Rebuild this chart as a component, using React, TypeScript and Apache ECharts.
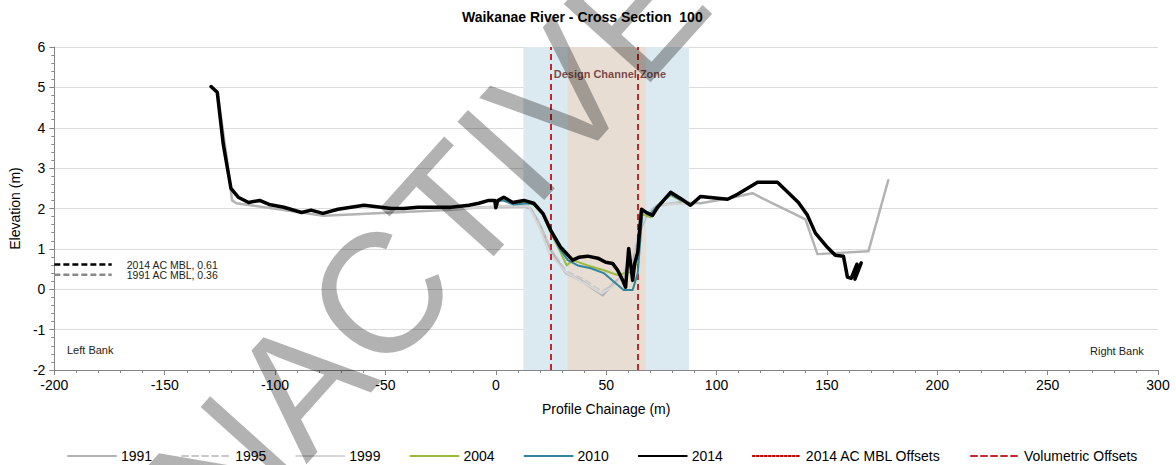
import React, { useEffect, useRef } from "react";
import * as echarts from "echarts";

const titleText = "Waikanae River - Cross Section  100";

const s1991: [number, number][] = [
  [-129, 5.0], [-126, 4.85], [-122, 3.3], [-119.5, 2.2], [-117.5, 2.13], [-78, 1.82], [-20, 1.97],
  [-6.8, 2.03], [12.7, 2.05], [15.8, 2.0], [20.4, 1.55], [24.9, 0.97], [31.7, 0.4], [38.5, 0.22],
  [48.4, -0.15], [53.4, 0.15], [57.9, 0.35], [62, 0.77], [64.7, 1.39], [68.8, 1.88], [73.3, 2.08],
  [83.7, 2.15], [92.8, 2.13], [105, 2.25], [116.3, 2.38], [120.8, 2.25], [140.3, 1.73], [145.7, 0.87],
  [168.8, 0.94], [177.8, 2.7],
];

const s1995: [number, number][] = [
  [0, 2.08], [15, 2.06], [20, 1.6], [25, 1.0], [32, 0.45], [40, 0.25], [48, -0.05], [55, 0.2],
  [62, 0.8], [66, 1.6], [70, 1.95], [80, 2.15], [90, 2.15],
];

const s1999: [number, number][] = [
  [-20, 1.98], [0, 2.05], [15, 2.05], [20, 1.5], [24, 0.9], [31.7, 0.42], [40, 0.15], [48, -0.1],
  [54, 0.1], [60, 0.5], [64, 1.3], [68, 1.85], [75, 2.1], [90, 2.12],
];

const s2004: [number, number][] = [
  [0, 2.1], [2, 2.22], [5, 2.18], [8, 2.12], [12.7, 2.15], [17, 2.1], [21.3, 1.85], [24.9, 1.39],
  [29, 0.95], [32.1, 0.59], [34.8, 0.72], [41.6, 0.59], [48.9, 0.47], [55.2, 0.35], [59.7, 0.42],
  [62, 0.4], [64.3, 0.72], [65.6, 1.88], [70.1, 1.78], [74.7, 2.13], [79.2, 2.33], [83.7, 2.2], [88, 2.1],
];

const s2010: [number, number][] = [
  [0, 2.05], [1, 2.18], [3.2, 2.2], [8.1, 2.1], [15.8, 2.13], [18, 2.08], [21.3, 1.85], [24.9, 1.42],
  [29, 1.0], [32.6, 0.72], [37.1, 0.59], [43, 0.52], [48.9, 0.4], [54.3, 0.15], [57.9, -0.02],
  [62, -0.02], [64.3, 0.4], [66.5, 1.96], [70.1, 1.88], [74.7, 2.15], [79.2, 2.35], [84, 2.2],
];

const s2014: [number, number][] = [
  [-129, 5.02], [-126.2, 4.88], [-123.5, 3.6], [-120, 2.5], [-116.7, 2.28], [-112, 2.15], [-107, 2.2],
  [-102.7, 2.1], [-96, 2.03], [-88, 1.9], [-83.7, 1.96], [-78.3, 1.88], [-71.5, 1.98], [-65.6, 2.03],
  [-59.7, 2.08], [-52, 2.03], [-47.5, 2.0], [-41.6, 2.0], [-35.3, 2.03], [-20.4, 2.03], [-12.2, 2.08],
  [-7.7, 2.13], [-3.2, 2.2], [-0.5, 2.2], [0, 2.02], [0.9, 2.2], [3.6, 2.28], [7.7, 2.15], [12.7, 2.2],
  [17.2, 2.13], [21.3, 1.88], [24.9, 1.46], [29.4, 1.04], [34.8, 0.72], [37.6, 0.79], [41.6, 0.82],
  [46.2, 0.77], [49.8, 0.67], [52.9, 0.64], [55.2, 0.47], [57.5, 0.22], [58.8, 0.05], [60.2, 1.01],
  [62, 0.22], [62.9, 0.64], [64.3, 0.92], [66, 1.98], [68.8, 1.88], [71, 1.83], [73.3, 2.03], [76, 2.2],
  [79.2, 2.4], [83.7, 2.25], [88.2, 2.08], [92.8, 2.3], [105, 2.23], [109.5, 2.35], [118.6, 2.65],
  [127.6, 2.65], [137.1, 2.15], [141.2, 1.83], [144.8, 1.39], [150.2, 1.04], [153.8, 0.84], [157.5, 0.82],
  [159.3, 0.3], [161, 0.27], [163.6, 0.62], [162.7, 0.25], [165.5, 0.65],
];

const mbl2014 = 0.61;
const mbl1991 = 0.36;
const mblStart = -200;
const mblEnd = -174;

const volumetricOffsets = [25, 64.5];
const outerZone = [12.5, 87.5];
const designZone = [32.5, 68];
const zoneLabelAt: [number, number] = [26, 5.32];
const zoneLabel = "Design Channel Zone";

const legendNames = ["1991", "1995", "1999", "2004", "2010", "2014", "2014 AC MBL Offsets", "Volumetric Offsets"];

const FONT = "'Liberation Sans', Arial, sans-serif";

function lineSeries(name: string, data: [number, number][], color: string, width: number, type: any = "solid", z = 3) {
  return {
    name,
    type: "line",
    data,
    symbol: "none",
    z,
    lineStyle: { color, width, type, join: "round", cap: "round" },
    itemStyle: { color },
    emphasis: { disabled: true },
  };
}

const option: any = {
  animation: false,
  textStyle: { fontFamily: FONT },
  title: {
    text: titleText,
    left: 462,
    top: 10,
    padding: 0,
    textStyle: { fontSize: 14, fontWeight: "bold", color: "#000", fontFamily: FONT },
  },
  grid: { left: 53, right: 18, top: 47, bottom: 95, containLabel: false },
  legend: {
    data: legendNames,
    left: 62,
    top: 444,
    itemWidth: 48,
    itemHeight: 14,
    itemGap: 29,
    itemStyle: { opacity: 0 },
    textStyle: { fontSize: 14, color: "#000", fontFamily: FONT },
  },
  xAxis: {
    type: "value",
    min: -200,
    max: 300,
    interval: 50,
    name: "Profile Chainage (m)",
    nameLocation: "middle",
    nameGap: 32,
    nameTextStyle: { fontSize: 14, color: "#000" },
    axisLine: { show: true, onZero: false, lineStyle: { color: "#868686", width: 1 } },
    axisTick: { show: true, inside: false, length: 5, lineStyle: { color: "#868686" } },
    minorTick: { show: true, splitNumber: 5, length: 3, lineStyle: { color: "#868686" } },
    axisLabel: { fontSize: 14, color: "#000", margin: 8 },
    splitLine: { show: false },
  },
  yAxis: {
    type: "value",
    min: -2,
    max: 6,
    interval: 1,
    name: "Elevation (m)",
    nameLocation: "middle",
    nameGap: 31,
    nameRotate: 90,
    nameTextStyle: { fontSize: 14, color: "#000" },
    axisLine: { show: true, onZero: false, lineStyle: { color: "#868686", width: 1 } },
    axisTick: { show: true, inside: false, length: 5, lineStyle: { color: "#868686" } },
    minorTick: { show: true, splitNumber: 5, length: 3, lineStyle: { color: "#868686" } },
    axisLabel: { fontSize: 14, color: "#000", margin: 9 },
    splitLine: { show: true, lineStyle: { color: "#dcdcdc", width: 1 } },
  },
  series: [
    {
      name: "zones",
      type: "line",
      data: [],
      z: 1,
      silent: true,
      markArea: {
        silent: true,
        data: [
          [{ xAxis: outerZone[0], itemStyle: { color: "#dbeaf0" } }, { xAxis: outerZone[1] }],
          [{ xAxis: designZone[0], itemStyle: { color: "#e7ddd2" } }, { xAxis: designZone[1] }],
        ],
      },
    },
    lineSeries("1991", s1991, "#b3b3b3", 2.5, "solid", 3),
    lineSeries("1995", s1995, "#c8c8c8", 1.5, [6, 4], 3),
    lineSeries("1999", s1999, "#d6d6d6", 2, "solid", 3),
    lineSeries("2004", s2004, "#9bbb3b", 2, "solid", 4),
    lineSeries("2010", s2010, "#31859c", 2, "solid", 5),
    lineSeries("2014", s2014, "#000000", 3.5, "solid", 6),
    {
      ...lineSeries("2014 AC MBL Offsets", [], "#c00000", 2, "dotted", 4),
    },
    {
      ...lineSeries("Volumetric Offsets", [], "#c0282d", 2, [6, 4], 4),
      markLine: {
        silent: true,
        symbol: "none",
        label: { show: false },
        lineStyle: { color: "#c0282d", width: 2, type: [6, 4] },
        data: volumetricOffsets.map((v) => ({ xAxis: v })),
      },
    },
    {
      name: "mbl2014",
      type: "line",
      data: [[mblStart, mbl2014], [mblEnd, mbl2014]],
      symbol: "none",
      z: 6,
      lineStyle: { color: "#000", width: 2.5, type: [6, 3] },
      endLabel: {
        show: true,
        formatter: `2014 AC MBL, ${mbl2014}`,
        distance: 15,
        fontSize: 10.5,
        color: "#222",
      },
    },
    {
      name: "mbl1991",
      type: "line",
      data: [[mblStart, mbl1991], [mblEnd, mbl1991]],
      symbol: "none",
      z: 6,
      lineStyle: { color: "#8a8a8a", width: 2.5, type: [6, 3] },
      endLabel: {
        show: true,
        formatter: `1991 AC MBL, ${mbl1991}`,
        distance: 15,
        fontSize: 10.5,
        color: "#222",
      },
    },
    {
      name: "zoneLabel",
      type: "scatter",
      data: [zoneLabelAt],
      symbolSize: 1,
      z: 7,
      itemStyle: { color: "rgba(0,0,0,0)" },
      label: {
        show: true,
        position: "right",
        distance: 0,
        formatter: zoneLabel,
        fontSize: 11,
        fontWeight: "bold",
        color: "#5e1f22",
      },
    },
  ],
  graphic: [
    {
      type: "text",
      left: 67,
      top: 344,
      style: { text: "Left Bank", fontSize: 11, fill: "#222", fontFamily: FONT },
    },
    {
      type: "text",
      left: 1090,
      top: 345,
      style: { text: "Right Bank", fontSize: 11, fill: "#222", fontFamily: FONT },
    },
    {
      type: "text",
      x: 411,
      y: 260,
      rotation: (48 * Math.PI) / 180,
      z: 100,
      silent: true,
      style: {
        text: "INACTIVE",
        fontSize: 170,
        fill: "rgba(0,0,0,0.3)",
        fontFamily: FONT,
        textAlign: "center",
        textVerticalAlign: "middle",
      },
    },
  ],
};

export default function App() {
  const ref = useRef<HTMLDivElement>(null);
  useEffect(() => {
    const chart = echarts.init(ref.current!, null, { renderer: "svg" });
    chart.setOption(option);
    return () => chart.dispose();
  }, []);
  return (
    <div
      ref={ref}
      style={{ position: "absolute", left: 0, top: 0, width: 1176, height: 465, background: "#fff" }}
    />
  );
}
